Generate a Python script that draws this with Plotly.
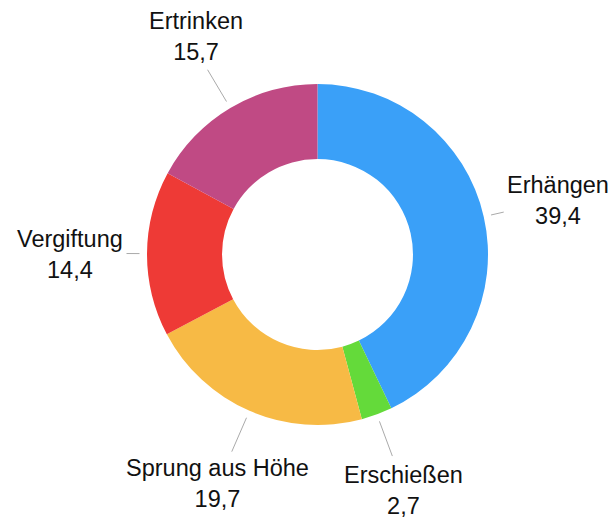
import math
import plotly.graph_objects as go

categories = ["Erhängen", "Erschießen", "Sprung aus Höhe", "Vergiftung", "Ertrinken"]
values = [39.4, 2.7, 19.7, 14.4, 15.7]
value_labels = ["39,4", "2,7", "19,7", "14,4", "15,7"]
colors = ["#3AA0F8", "#64DA3A", "#F7BA45", "#EE3A36", "#C04A84"]

W, H = 611, 521
CX, CY, R = 317.5, 254.5, 170.5

# label layout: (line end radius, dx, dy, xanchor, yanchor) relative to line end
label_layout = [
    (191, 1, -12, "left", "middle"),
    (215, 11, 4, "center", "top"),
    (215, -14, 1, "center", "top"),
    (191, -2, 1, "right", "middle"),
    (215, -12, -3, "center", "bottom"),
]

def px(x, y):
    return x / W, 1 - y / H

fig = go.Figure(go.Pie(
    labels=categories, values=values, sort=False, direction="clockwise",
    rotation=0, hole=0.56, textinfo="none",
    marker=dict(colors=colors, line=dict(width=0)),
    domain=dict(x=[(CX - R) / W, (CX + R) / W], y=[1 - (CY + R) / H, 1 - (CY - R) / H]),
    showlegend=False,
))

total = sum(values)
cum = 0
shapes, annotations = [], []
for cat, v, vl, (r2, dx, dy, xa, ya) in zip(categories, values, value_labels, label_layout):
    mid = (cum + v / 2) / total * 2 * math.pi
    cum += v
    s, c = math.sin(mid), math.cos(mid)
    x1, y1 = CX + 178 * s, CY - 178 * c
    x2, y2 = CX + r2 * s, CY - r2 * c
    a, b = px(x1, y1)
    a2, b2 = px(x2, y2)
    shapes.append(dict(type="line", xref="paper", yref="paper", x0=a, y0=b, x1=a2, y1=b2,
                       line=dict(color="#AAAAAA", width=1)))
    tx, ty = px(x2 + dx, y2 + dy)
    annotations.append(dict(text=f"{cat}<br>{vl}", x=tx, y=ty, xref="paper", yref="paper",
                            xanchor=xa, yanchor=ya, showarrow=False, align="center",
                            font=dict(size=23.5, color="#111111", family="Liberation Sans, Arial, sans-serif")))

fig.update_layout(width=W, height=H, margin=dict(l=0, r=0, t=0, b=0),
                  paper_bgcolor="white", plot_bgcolor="white",
                  shapes=shapes, annotations=annotations)
fig.write_html("out.html", config={"displayModeBar": False},
               post_script="document.body.style.margin='0';document.body.style.overflow='hidden';")
